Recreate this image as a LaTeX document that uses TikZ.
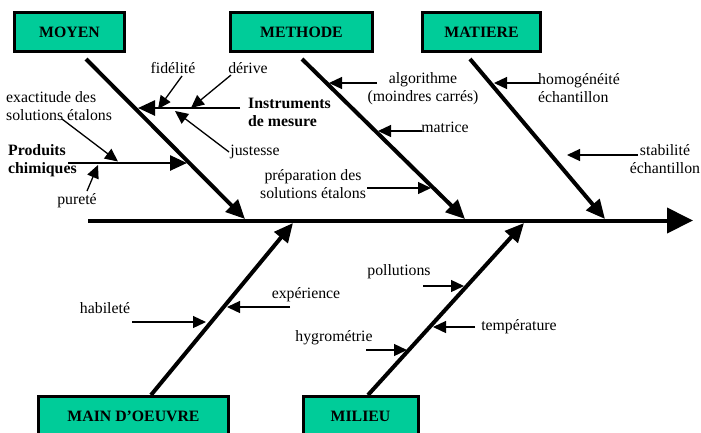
\documentclass[tikz,border=0pt]{standalone}
\usepackage{fontspec}
\setmainfont{Liberation Serif}
\usetikzlibrary{arrows.meta}
\definecolor{boxgreen}{RGB}{0,204,153}
\newcommand\dgfont{\fontsize{15.8pt}{18pt}\selectfont}
\begin{document}
\begin{tikzpicture}[x=1pt,y=-1pt,
  catbox/.style={draw=black,line width=3pt,fill=boxgreen},
  cattext/.style={font=\dgfont\bfseries,inner sep=0pt},
  lbl/.style={font=\dgfont,inner sep=0pt,align=center},
  lbll/.style={font=\dgfont,inner sep=0pt,align=left,anchor=west},
  bold/.style={font=\dgfont\bfseries,inner sep=0pt,align=left,anchor=west},
  spine/.style={line width=4pt,-{Triangle[length=26pt,width=25pt]}},
  bigarr/.style={line width=4pt,-{Triangle[length=19pt,width=17pt]}},
  midarr/.style={line width=2.6pt,-{Triangle[length=17pt,width=15pt]}},
  smallarr/.style={line width=1.3pt,-{Triangle[length=13pt,width=12pt]}}]
\useasboundingbox (0,0) rectangle (701,432);
\clip (0,0) rectangle (701,432);

% category boxes
\node[catbox,cattext,minimum width=110pt,minimum height=39pt] (moyen) at (69.5,32) {MOYEN};
\node[catbox,cattext,minimum width=142pt,minimum height=39pt] (methode) at (301.5,32) {METHODE};
\node[catbox,cattext,minimum width=118pt,minimum height=39pt] (matiere) at (481.5,32) {MATIERE};
\draw[catbox] (38.5,396.5) rectangle (228.5,445);
\draw[catbox] (303.5,396.5) rectangle (418.5,445);
\node[cattext] (main) at (133.5,416) {MAIN D’OEUVRE};
\node[cattext] (milieu) at (360.5,416) {MILIEU};

% coordinates
\coordinate (s0) at (88,220.5);   \coordinate (s1) at (693,220.5);
\coordinate (m0) at (86,59);      \coordinate (m1) at (245,219);
\coordinate (t0) at (302,59);     \coordinate (t1) at (465,219);
\coordinate (a0) at (470,59);     \coordinate (a1) at (605,219);
\coordinate (h0) at (151,395);    \coordinate (h1) at (293,223);
\coordinate (l0) at (368,395);    \coordinate (l1) at (524,223);

\coordinate (i0) at (240,108);    \coordinate (i1) at (138,108);
\coordinate (f0) at (182,76);     \coordinate (f1) at (158,109);
\coordinate (d0) at (231,75);     \coordinate (d1) at (191,108);
\coordinate (j0) at (229,152);    \coordinate (j1) at (175,111);
\coordinate (p0) at (68,163);     \coordinate (p1) at (187,163);
\coordinate (e0) at (62,119);     \coordinate (e1) at (118,161.5);
\coordinate (u0) at (87,191);     \coordinate (u1) at (98,165);

\coordinate (g0) at (377,83);     \coordinate (g1) at (329,83);
\coordinate (r0) at (422,131);    \coordinate (r1) at (378,131);
\coordinate (q0) at (367,188);    \coordinate (q1) at (431,188);
\coordinate (o0) at (540,83);     \coordinate (o1) at (494,83);
\coordinate (b0) at (638,155);    \coordinate (b1) at (567,155);

\coordinate (y0) at (132,322);    \coordinate (y1) at (206,322);
\coordinate (x0) at (290,307);    \coordinate (x1) at (227,307);
\coordinate (w0) at (423,286);    \coordinate (w1) at (464,286);
\coordinate (z0) at (366,350);    \coordinate (z1) at (407,350);
\coordinate (k0) at (475,327);    \coordinate (k1) at (433,327);

% main lines
\draw[spine] (s0) -- (s1);
\draw[bigarr] (m0) -- (m1);
\draw[bigarr] (t0) -- (t1);
\draw[bigarr] (a0) -- (a1);
\draw[bigarr] (h0) -- (h1);
\draw[bigarr] (l0) -- (l1);

% sub branches
\draw[midarr] (i0) -- (i1);
\draw[midarr] (p0) -- (p1);
\draw[smallarr] (f0) -- (f1);
\draw[smallarr] (d0) -- (d1);
\draw[smallarr] (j0) -- (j1);
\draw[smallarr] (e0) -- (e1);
\draw[smallarr] (u0) -- (u1);
\draw[smallarr] (g0) -- (g1);
\draw[smallarr] (r0) -- (r1);
\draw[smallarr] (q0) -- (q1);
\draw[smallarr] (o0) -- (o1);
\draw[smallarr] (b0) -- (b1);
\draw[smallarr] (y0) -- (y1);
\draw[smallarr] (x0) -- (x1);
\draw[smallarr] (w0) -- (w1);
\draw[smallarr] (z0) -- (z1);
\draw[smallarr] (k0) -- (k1);

% labels
\node[lbll] (exact) at (6,106) {exactitude des\\solutions étalons};
\node[lbl] (fid) at (173,68) {fidélité};
\node[lbl] (der) at (248,68) {dérive};
\node[bold] (instr) at (248,112) {Instruments\\de mesure};
\node[lbl] (just) at (255,152) {justesse};
\node[bold] (prod) at (8,160.5) {Produits\\chimiques};
\node[lbl] (pur) at (77,201) {pureté};
\node[lbl] (algo) at (423,88.5) {algorithme\\(moindres carrés)};
\node[lbl] (matr) at (445,127) {matrice};
\node[lbl] (prep) at (313,184) {préparation des\\solutions étalons};
\node[lbll] (homo) at (538,88.5) {homogénéité\\échantillon};
\node[lbl] (stab) at (665,159) {stabilité\\échantillon};
\node[lbl] (habi) at (105,308) {habileté};
\node[lbl] (expe) at (306,295) {expérience};
\node[lbl] (poll) at (399,272) {pollutions};
\node[lbl] (hygr) at (334,338) {hygrométrie};
\node[lbl] (temp) at (519,327) {température};
\end{tikzpicture}
\end{document}
